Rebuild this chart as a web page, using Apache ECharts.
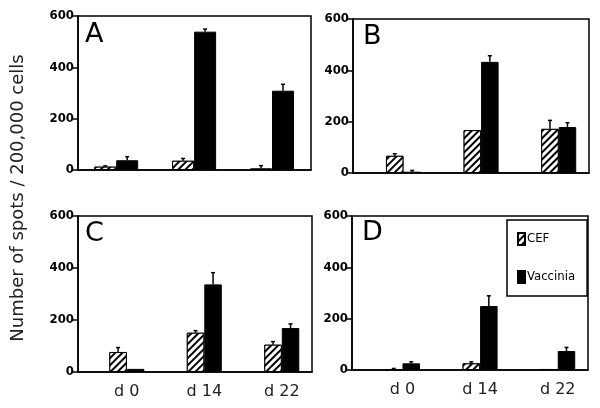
<!DOCTYPE html>
<html>
<head>
<meta charset="utf-8">
<script src="https://cdn.jsdelivr.net/npm/echarts@6/dist/echarts.min.js"></script>
<style>
  html, body { margin: 0; padding: 0; background: #fff; }
  #chart { width: 600px; height: 408px; }
</style>
</head>
<body>
<div id="chart"></div>
<script>
// days on the x axis
var categories = ['d 0', 'd 14', 'd 22']

// panel A
var cefA = [13, 36, 6]
var cefErrA = [3, 9, 11]
var vacA = [38, 539, 309]
var vacErrA = [14, 10, 25]
// panel B
var cefB = [67, 167, 172]
var cefErrB = [8, 0, 33]
var vacB = [5, 433, 179]
var vacErrB = [5, 24, 17]
// panel C
var cefC = [77, 151, 105]
var cefErrC = [17, 8, 12]
var vacC = [12, 337, 169]
var vacErrC = [0, 45, 16]
// panel D
var cefD = [3, 26, 4]
var cefErrD = [3, 6, 0]
var vacD = [26, 249, 74]
var vacErrD = [6, 40, 14]

var panels = [
  { name: 'A', cef: cefA, cefErr: cefErrA, vac: vacA, vacErr: vacErrA },
  { name: 'B', cef: cefB, cefErr: cefErrB, vac: vacB, vacErr: vacErrB },
  { name: 'C', cef: cefC, cefErr: cefErrC, vac: vacC, vacErr: vacErrC },
  { name: 'D', cef: cefD, cefErr: cefErrD, vac: vacD, vacErr: vacErrD }
]

// layout of each panel (pixels) and x range
var layout = [
  { left: 78, top: 16, width: 233, height: 154, xMin: -0.49, xMax: 2.5, bar: 22, labels: false, letter: [85, 21] },
  { left: 353, top: 19, width: 236, height: 154, xMin: -0.65, xMax: 2.39, bar: 17.5, labels: false, letter: [363, 23] },
  { left: 78, top: 216, width: 234, height: 156, xMin: -0.63, xMax: 2.39, bar: 17.5, labels: true, letter: [85, 220] },
  { left: 352, top: 216, width: 236, height: 154, xMin: -0.65, xMax: 2.39, bar: 17.5, labels: true, letter: [362, 219] }
]

var numFont = '"Liberation Sans Narrow", "DejaVu Sans Condensed", sans-serif'

var hatch = {
  symbol: 'rect',
  symbolSize: 1,
  color: '#000',
  backgroundColor: '#fff',
  dashArrayX: [1, 0],
  dashArrayY: [2, 3],
  rotation: -Math.PI / 4
}

function errorSeries(idx, vals, errs, shift) {
  return {
    type: 'custom',
    xAxisIndex: idx,
    yAxisIndex: idx,
    z: 5,
    silent: true,
    data: vals.map(function (v, i) { return [i, v, errs[i]] }),
    renderItem: function (params, api) {
      var x = api.value(0)
      var top = api.value(1)
      var err = api.value(2)
      if (!err) return null
      var p0 = api.coord([x, top])
      var p1 = api.coord([x, top + err])
      var cx = p0[0] + shift
      return {
        type: 'group',
        children: [
          { type: 'line', shape: { x1: cx, y1: p0[1], x2: cx, y2: p1[1] }, style: { stroke: '#000', lineWidth: 1.5 } },
          { type: 'line', shape: { x1: cx - 2, y1: p1[1], x2: cx + 2, y2: p1[1] }, style: { stroke: '#000', lineWidth: 1.5 } }
        ]
      }
    }
  }
}

var grid = [], xAxis = [], yAxis = [], series = [], graphic = []

panels.forEach(function (p, i) {
  var l = layout[i]
  grid.push({ left: l.left, top: l.top, width: l.width, height: l.height, show: true, borderColor: '#000', borderWidth: 1.5, backgroundColor: 'transparent' })
  xAxis.push({
    type: 'value', gridIndex: i, min: l.xMin, max: l.xMax,
    splitLine: { show: false },
    axisLine: { show: true, onZero: false, lineStyle: { color: '#000', width: 1.5 } },
    axisTick: { show: false },
    axisLabel: {
      show: l.labels,
      customValues: [0, 1, 2],
      margin: 12,
      color: '#222',
      fontSize: 16,
      fontFamily: 'DejaVu Sans',
      formatter: function (v) { return categories[Math.round(v)] }
    }
  })
  yAxis.push({
    type: 'value', gridIndex: i, min: 0, max: 600, interval: 200,
    splitLine: { show: false },
    axisLine: { show: true, onZero: false, lineStyle: { color: '#000', width: 1.5 } },
    axisTick: { show: true, length: 5, lineStyle: { color: '#000', width: 1.5 } },
    axisLabel: { margin: 4, color: '#000', fontSize: 13, fontWeight: 'bold', fontFamily: numFont }
  })
  series.push({
    name: 'CEF', type: 'bar', xAxisIndex: i, yAxisIndex: i,
    barWidth: l.bar, barGap: '0%',
    data: p.cef.map(function (v, k) { return [k, v] }),
    itemStyle: { color: '#fff', borderColor: '#000', borderWidth: 1, decal: hatch }
  })
  series.push({
    name: 'Vaccinia', type: 'bar', xAxisIndex: i, yAxisIndex: i,
    barWidth: l.bar, barGap: '0%',
    data: p.vac.map(function (v, k) { return [k, v] }),
    itemStyle: { color: '#000', borderColor: '#000', borderWidth: 1 }
  })
  series.push(errorSeries(i, p.cef, p.cefErr, -l.bar / 2))
  series.push(errorSeries(i, p.vac, p.vacErr, l.bar / 2))
  graphic.push({
    type: 'text', left: l.letter[0], top: l.letter[1],
    style: { text: p.name, fill: '#000', font: '27px "DejaVu Sans"' }
  })
})

graphic.push({
  type: 'text', x: 18, y: 198, rotation: Math.PI / 2,
  style: {
    text: 'Number of spots / 200,000 cells',
    fill: '#222', font: '18px "DejaVu Sans"',
    align: 'center', verticalAlign: 'middle'
  }
})

var option = {
  animation: false,
  backgroundColor: '#fff',
  grid: grid,
  xAxis: xAxis,
  yAxis: yAxis,
  legend: {
    data: ['CEF', 'Vaccinia'],
    orient: 'vertical',
    left: 507, top: 220,
    padding: [12, 12, 12, 10],
    itemGap: 24,
    itemWidth: 7, itemHeight: 12,
    icon: 'rect',
    borderColor: '#000', borderWidth: 1.5,
    selectedMode: false,
    textStyle: { color: '#000', fontSize: 13, fontFamily: numFont, padding: [0, 0, 0, -3] }
  },
  graphic: graphic,
  series: series
}

var myChart = echarts.init(document.getElementById('chart'))
myChart.setOption(option)
</script>
</body>
</html>
